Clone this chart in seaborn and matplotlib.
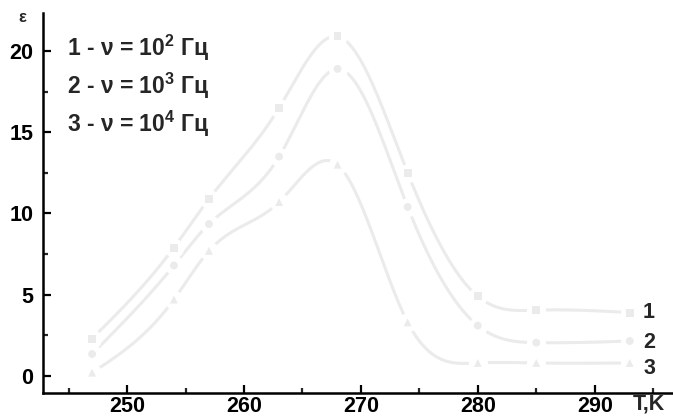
import numpy as np
import pandas as pd
import matplotlib
matplotlib.use("Agg")
import matplotlib.pyplot as plt
import seaborn as sns
from matplotlib.ticker import MultipleLocator

# Temperature points (K) and permittivity for three measurement frequencies
temperature = [247, 254, 257, 263, 268, 274, 280, 285, 293]
eps_f1 = [2.3, 7.9, 10.9, 16.5, 20.9, 12.5, 4.9, 4.05, 3.9]     # 10^2 Hz
eps_f2 = [1.35, 6.8, 9.35, 13.5, 18.9, 10.4, 3.1, 2.05, 2.15]   # 10^3 Hz
eps_f3 = [0.2, 4.7, 7.7, 10.7, 13.0, 3.3, 0.8, 0.8, 0.8]        # 10^4 Hz
series_ids = ["1", "2", "3"]
exponents = ["2", "3", "4"]
x_ticks = [250, 260, 270, 280, 290]
y_ticks = [0, 5, 10, 15, 20]

W, H = 673, 420
CURVE = "#ebebeb"


def natural_spline(x, y, xs):
    x = np.asarray(x, float)
    y = np.asarray(y, float)
    n = len(x)
    h = np.diff(x)
    A = np.zeros((n, n))
    b = np.zeros(n)
    A[0, 0] = A[-1, -1] = 1.0
    for i in range(1, n - 1):
        A[i, i - 1] = h[i - 1]
        A[i, i] = 2 * (h[i - 1] + h[i])
        A[i, i + 1] = h[i]
        b[i] = 6 * ((y[i + 1] - y[i]) / h[i] - (y[i] - y[i - 1]) / h[i - 1])
    m = np.linalg.solve(A, b)
    idx = np.clip(np.searchsorted(x, xs) - 1, 0, n - 2)
    x0, x1 = x[idx], x[idx + 1]
    hh = x1 - x0
    t0, t1 = x1 - xs, xs - x0
    return (m[idx] * t0 ** 3 / (6 * hh) + m[idx + 1] * t1 ** 3 / (6 * hh)
            + (y[idx] / hh - m[idx] * hh / 6) * t0
            + (y[idx + 1] / hh - m[idx + 1] * hh / 6) * t1)


all_eps = [eps_f1, eps_f2, eps_f3]
points = pd.DataFrame({
    "T": np.tile(temperature, 3),
    "eps": np.concatenate(all_eps),
    "series": np.repeat(series_ids, len(temperature)),
})
t_fine = np.linspace(temperature[0], temperature[-1], 400)
curves = pd.DataFrame({
    "T": np.tile(t_fine, 3),
    "eps": np.concatenate([natural_spline(temperature, e, t_fine) for e in all_eps]),
    "series": np.repeat(series_ids, len(t_fine)),
})

sns.set_style("ticks")
plt.rcParams["font.family"] = ["Liberation Sans", "DejaVu Sans"]
plt.rcParams["font.weight"] = "bold"
plt.rcParams["mathtext.fontset"] = "custom"
plt.rcParams["mathtext.rm"] = "Liberation Sans:bold"

fig = plt.figure(figsize=(W / 100, H / 100), dpi=100)
ax = fig.add_axes([43 / W, 27 / H, 1 - 43 / W, (393 - 13) / H])

sns.lineplot(data=curves, x="T", y="eps", hue="series", palette=[CURVE] * 3,
             linewidth=2.2, legend=False, sort=False, estimator=None, ax=ax)
# white discs open a gap in each curve around its markers
sns.scatterplot(data=points, x="T", y="eps", color="white", s=190,
                linewidth=0, legend=False, ax=ax, zorder=3)
sns.scatterplot(data=points, x="T", y="eps", style="series",
                markers={"1": "s", "2": "o", "3": "^"}, color=CURVE, s=32,
                linewidth=0, legend=False, ax=ax, zorder=4)

ax.set_xlim(242.8, 296.7)
ax.set_ylim(-1.05, 22.34)
ax.set_xticks(x_ticks)
ax.set_yticks(y_ticks)
ax.xaxis.set_minor_locator(MultipleLocator(5))
ax.yaxis.set_minor_locator(MultipleLocator(2.5))
ax.set_xlabel("")
ax.set_ylabel("")
for s in ("top", "right"):
    ax.spines[s].set_visible(False)
for s in ("left", "bottom"):
    ax.spines[s].set_linewidth(1.8)
    ax.spines[s].set_color("black")
ax.tick_params(which="major", direction="in", length=6, width=1.6,
               labelsize=15.5, colors="black")
ax.tick_params(axis="y", which="major", pad=7)
ax.tick_params(axis="x", which="major", pad=2.5)
ax.tick_params(which="minor", direction="in", length=3.5, width=1.6)
for lab in ax.get_xticklabels() + ax.get_yticklabels():
    lab.set_fontweight("bold")


def fpos(px, py):
    return px / W, 1 - py / H


fig.text(*fpos(22, 18), "ε", fontsize=12, fontweight="bold",
         ha="center", va="center")
for i, (sid, ex) in enumerate(zip(series_ids, exponents)):
    fig.text(*fpos(67, 48 + 38 * i),
             f"{sid} - ν = $\\mathregular{{10^{{{ex}}}}}$ Гц",
             fontsize=16.5, fontweight="bold", ha="left", va="center")
for sid, py in zip(series_ids, [312, 342, 368]):
    fig.text(*fpos(649, py), sid, fontsize=15.5, fontweight="bold",
             ha="center", va="center")
fig.text(*fpos(649, 404), "T,K", fontsize=15.5, fontweight="bold",
         ha="center", va="center")

fig.savefig("out.png", dpi=100)
